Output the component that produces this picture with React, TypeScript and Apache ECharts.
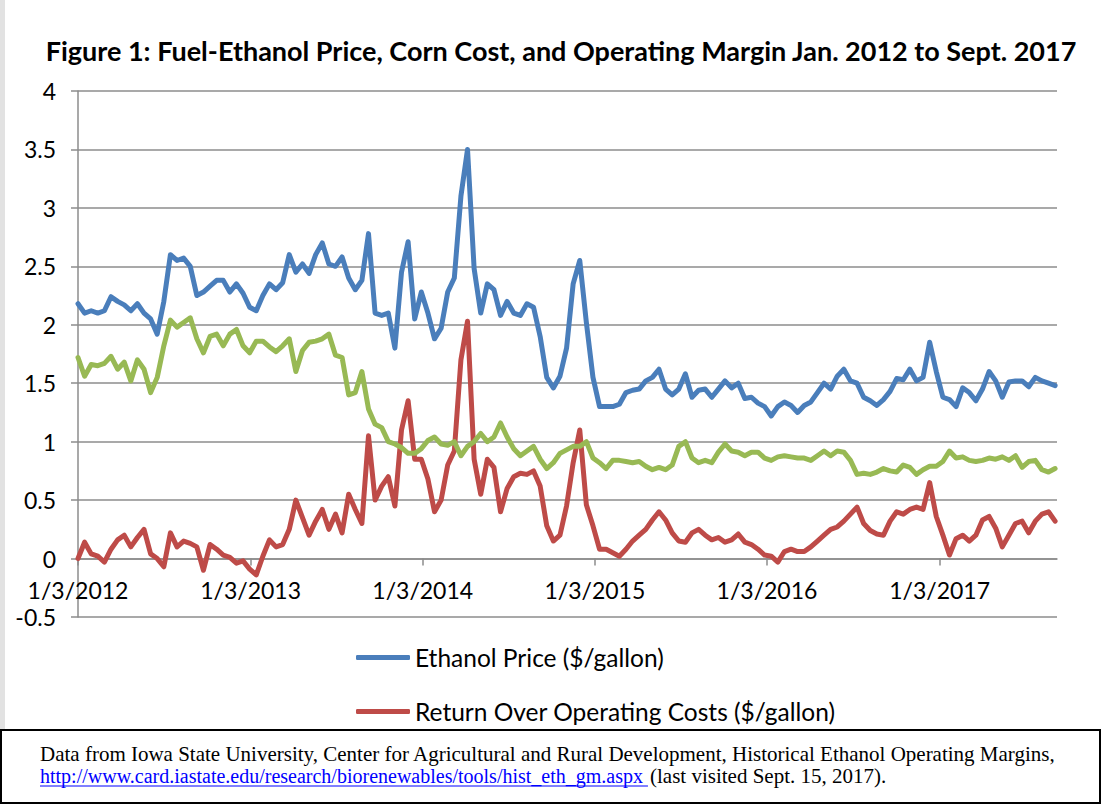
import React, { useEffect, useRef } from "react";
import * as echarts from "echarts";

// ---- Data (one value every 14 days from 1/3/2012) ----
const startDate = "2012-01-03";
const endDate = "2017-09-09";
const stepDays = 14;

const ethanolPrice = [
  2.18, 2.10, 2.12, 2.10, 2.12, 2.24, 2.20, 2.17, 2.12, 2.18, 2.10, 2.05, 1.92, 2.20, 2.60, 2.55, 2.57, 2.50, 2.25, 2.28, 2.33,
  2.38, 2.38, 2.28, 2.35, 2.27, 2.15, 2.12, 2.25, 2.35, 2.30, 2.36, 2.60, 2.45, 2.52, 2.44, 2.60, 2.70, 2.52, 2.50, 2.58, 2.40, 2.30,
  2.38, 2.78, 2.10, 2.08, 2.10, 1.80, 2.45, 2.71, 2.05, 2.28, 2.10, 1.88, 1.97, 2.28, 2.40, 3.10, 3.50, 2.48, 2.10, 2.35, 2.30,
  2.08, 2.20, 2.10, 2.08, 2.18, 2.15, 1.90, 1.55, 1.46, 1.56, 1.80, 2.35, 2.55, 2.02, 1.55, 1.30, 1.30, 1.30, 1.32, 1.42, 1.44,
  1.45, 1.52, 1.55, 1.62, 1.45, 1.40, 1.45, 1.58, 1.38, 1.44, 1.45, 1.38, 1.45, 1.52, 1.46, 1.50, 1.37, 1.38, 1.33, 1.30, 1.22,
  1.30, 1.34, 1.31, 1.25, 1.31, 1.34, 1.42, 1.50, 1.45, 1.56, 1.62, 1.52, 1.50, 1.38, 1.35, 1.31, 1.36, 1.43, 1.54, 1.53, 1.62,
  1.52, 1.55, 1.85, 1.60, 1.38, 1.36, 1.30, 1.46, 1.42, 1.35, 1.45, 1.60, 1.52, 1.38, 1.51, 1.52, 1.52, 1.47, 1.55, 1.52, 1.50, 1.48,
];

const cornCost = [
  1.72, 1.56, 1.66, 1.65, 1.67, 1.73, 1.62, 1.68, 1.52, 1.70, 1.62, 1.42, 1.55, 1.82, 2.04, 1.98, 2.02, 2.06, 1.88, 1.76, 1.90,
  1.92, 1.82, 1.92, 1.96, 1.82, 1.76, 1.86, 1.86, 1.81, 1.77, 1.82, 1.88, 1.60, 1.78, 1.85, 1.86, 1.88, 1.92, 1.74, 1.72, 1.40, 1.42,
  1.60, 1.28, 1.15, 1.12, 1.00, 0.98, 0.95, 0.90, 0.90, 0.94, 1.01, 1.04, 0.98, 0.97, 1.00, 0.88, 0.96, 1.00, 1.07, 1.00, 1.04,
  1.16, 1.04, 0.94, 0.88, 0.92, 0.96, 0.85, 0.77, 0.82, 0.90, 0.93, 0.96, 0.96, 1.00, 0.86, 0.82, 0.77, 0.84, 0.84, 0.83, 0.82,
  0.83, 0.79, 0.76, 0.78, 0.76, 0.80, 0.96, 1.00, 0.86, 0.82, 0.84, 0.82, 0.91, 0.98, 0.92, 0.91, 0.88, 0.91, 0.91, 0.86, 0.84,
  0.87, 0.88, 0.87, 0.86, 0.86, 0.84, 0.88, 0.92, 0.88, 0.92, 0.91, 0.84, 0.72, 0.73, 0.72, 0.74, 0.77, 0.75, 0.74, 0.80, 0.78,
  0.72, 0.76, 0.79, 0.79, 0.83, 0.92, 0.86, 0.87, 0.84, 0.83, 0.84, 0.86, 0.85, 0.87, 0.84, 0.88, 0.78, 0.83, 0.84, 0.76, 0.74, 0.77,
];

const returnOverCosts = [
  0.00, 0.14, 0.04, 0.02, -0.03, 0.08, 0.16, 0.20, 0.10, 0.18, 0.25, 0.04, 0.00, -0.07, 0.22, 0.10, 0.15, 0.13, 0.10, -0.10, 0.12,
  0.08, 0.03, 0.01, -0.04, -0.02, -0.09, -0.14, 0.02, 0.16, 0.10, 0.12, 0.25, 0.50, 0.35, 0.20, 0.32, 0.42, 0.25, 0.38, 0.22, 0.55, 0.42,
  0.30, 1.05, 0.50, 0.62, 0.70, 0.45, 1.10, 1.35, 0.85, 0.85, 0.68, 0.40, 0.50, 0.80, 0.92, 1.70, 2.03, 0.85, 0.55, 0.85, 0.78,
  0.40, 0.60, 0.70, 0.73, 0.72, 0.75, 0.62, 0.28, 0.15, 0.20, 0.45, 0.82, 1.10, 0.46, 0.28, 0.08, 0.08, 0.05, 0.02, 0.08, 0.15,
  0.20, 0.25, 0.33, 0.40, 0.33, 0.22, 0.15, 0.14, 0.22, 0.25, 0.20, 0.16, 0.18, 0.14, 0.16, 0.21, 0.14, 0.12, 0.08, 0.03, 0.02,
  -0.03, 0.06, 0.08, 0.06, 0.06, 0.10, 0.15, 0.20, 0.25, 0.27, 0.32, 0.38, 0.44, 0.30, 0.24, 0.21, 0.20, 0.32, 0.40, 0.38, 0.42,
  0.44, 0.42, 0.65, 0.36, 0.20, 0.03, 0.17, 0.20, 0.15, 0.20, 0.33, 0.36, 0.26, 0.10, 0.20, 0.30, 0.32, 0.22, 0.32, 0.38, 0.40, 0.32,
];

const xTickLabels = ["1/3/2012", "1/3/2013", "1/3/2014", "1/3/2015", "1/3/2016", "1/3/2017"];
const yMin = -0.5;
const yMax = 4;
const yStep = 0.5;

const seriesNames = {
  ethanol: "Ethanol Price ($/gallon)",
  returns: "Return Over Operating Costs ($/gallon)",
  corn: "Corn Cost ($/gallon)",
};

const titleText = "Figure 1: Fuel-Ethanol Price, Corn Cost, and Operating Margin Jan. 2012 to Sept. 2017";
const sourceLine1 =
  "Data from Iowa State University, Center for Agricultural and Rural Development, Historical Ethanol Operating Margins,";
const sourceLink = "http://www.card.iastate.edu/research/biorenewables/tools/hist_eth_gm.aspx ";
const sourceRest = "(last visited Sept. 15, 2017).";

// ---- helpers ----
const DAY = 86400000;
function isoDay(iso: string) {
  return Date.parse(iso + "T00:00:00Z");
}
function labelToDayOffset(label: string) {
  const [m, d, y] = label.split("/");
  const iso = `${y}-${m.padStart(2, "0")}-${d.padStart(2, "0")}`;
  return Math.round((isoDay(iso) - isoDay(startDate)) / DAY);
}
const toPoints = (vals: number[]) => vals.map((v, i) => [i * stepDays, v]);

const BLUE = "#4a7ebb";
const RED = "#be4b48";
const GREEN = "#98b954";
const GRID = "#8c8c8c";
const SANS = "Lato, 'Open Sans', sans-serif";
const SERIF = "'Liberation Serif', 'Times New Roman', serif";

const W = 1106;
const H = 805;
const GRID_TOP = 91;
const GRID_BOTTOM = 188;

export default function App() {
  const ref = useRef<HTMLDivElement>(null);

  useEffect(() => {
    if (!ref.current) return;
    const chart = echarts.init(ref.current, undefined, { renderer: "svg" });

    const tickDays = xTickLabels.map(labelToDayOffset);
    const maxDay = Math.round((isoDay(endDate) - isoDay(startDate)) / DAY);

    // move the date axis up so it crosses the value axis at 0 (as in the reference)
    const plotH = H - GRID_TOP - GRID_BOTTOM;
    const zeroOffset = -(plotH * (0 - yMin)) / (yMax - yMin);

    const ctx = document.createElement("canvas").getContext("2d")!;
    ctx.font = `20px ${SERIF}`;
    const linkWidth = ctx.measureText(sourceLink).width;

    const footerX = 40;

    chart.setOption({
      animation: false,
      backgroundColor: "#ffffff",
      textStyle: { fontFamily: SANS },
      grid: { left: 78, right: 49, top: GRID_TOP, bottom: GRID_BOTTOM, containLabel: false },
      legend: {
        data: [seriesNames.ethanol, seriesNames.returns],
        orient: "vertical",
        left: 356,
        top: 645,
        padding: 0,
        itemGap: 29,
        itemWidth: 54,
        itemHeight: 5,
        icon: "roundRect",
        textStyle: { fontFamily: SANS, fontSize: 24.5, color: "#000", lineHeight: 24 },
      },
      xAxis: {
        type: "value",
        min: 0,
        max: maxDay,
        position: "bottom",
        offset: zeroOffset,
        axisLine: { onZero: false, lineStyle: { color: GRID, width: 1.5 } },
        axisTick: {
          show: true,
          length: 7,
          customValues: tickDays,
          lineStyle: { color: GRID, width: 1.5 },
        },
        axisLabel: {
          customValues: tickDays,
          margin: 20,
          fontFamily: SANS,
          fontSize: 23,
          color: "#000",
          formatter: (v: number) => {
            const idx = tickDays.indexOf(Math.round(v));
            return idx >= 0 ? xTickLabels[idx] : "";
          },
        },
        splitLine: { show: false },
      },
      yAxis: {
        type: "value",
        min: yMin,
        max: yMax,
        interval: yStep,
        axisLine: { show: true, onZero: false, lineStyle: { color: GRID, width: 1.5 } },
        axisTick: { show: true, length: 7, lineStyle: { color: GRID, width: 1.5 } },
        axisLabel: { margin: 22, fontFamily: SANS, fontSize: 23, color: "#000" },
        splitLine: { show: true, lineStyle: { color: GRID, width: 1.5 } },
      },
      series: [
        {
          name: seriesNames.ethanol,
          type: "line",
          data: toPoints(ethanolPrice),
          showSymbol: false,
          color: BLUE,
          lineStyle: { color: BLUE, width: 5, cap: "round", join: "round" },
          z: 3,
        },
        {
          name: seriesNames.returns,
          type: "line",
          data: toPoints(returnOverCosts),
          showSymbol: false,
          color: RED,
          lineStyle: { color: RED, width: 5, cap: "round", join: "round" },
          z: 3,
        },
        {
          name: seriesNames.corn,
          type: "line",
          data: toPoints(cornCost),
          showSymbol: false,
          color: GREEN,
          lineStyle: { color: GREEN, width: 5, cap: "round", join: "round" },
          z: 3,
        },
      ],
      graphic: [
        {
          type: "rect",
          shape: { x: 0, y: 0, width: 5, height: 730 },
          style: { fill: "#e2e2e2" },
          silent: true,
        },
        {
          type: "text",
          x: 561,
          y: 50,
          style: {
            text: titleText,
            fontFamily: SANS,
            fontSize: 27,
            fontWeight: "bold",
            fill: "#000",
            align: "center",
            verticalAlign: "middle",
          },
        },
        {
          type: "rect",
          shape: { x: 1, y: 730, width: 1099, height: 73 },
          style: { fill: "#fff", stroke: "#000", lineWidth: 2 },
        },
        {
          type: "text",
          x: footerX,
          y: 754,
          style: {
            text: sourceLine1,
            fontFamily: SERIF,
            fontSize: 21,
            lineHeight: 21,
            fill: "#000",
            align: "left",
            verticalAlign: "middle",
          },
        },
        {
          type: "text",
          x: footerX,
          y: 776,
          style: {
            text: sourceLink,
            fontFamily: SERIF,
            fontSize: 20,
            lineHeight: 20,
            fill: "#0000ff",
            align: "left",
            verticalAlign: "middle",
          },
        },
        {
          type: "line",
          shape: { x1: footerX, y1: 786, x2: footerX + linkWidth, y2: 786 },
          style: { stroke: "#0000ff", lineWidth: 1 },
        },
        {
          type: "text",
          x: footerX + linkWidth + 2,
          y: 776,
          style: {
            text: sourceRest,
            fontFamily: SERIF,
            fontSize: 21,
            lineHeight: 21,
            fill: "#000",
            align: "left",
            verticalAlign: "middle",
          },
        },
      ],
    });

    return () => chart.dispose();
  }, []);

  return (
    <div
      ref={ref}
      style={{ position: "absolute", left: 0, top: 0, width: W, height: H, background: "#fff" }}
    />
  );
}
